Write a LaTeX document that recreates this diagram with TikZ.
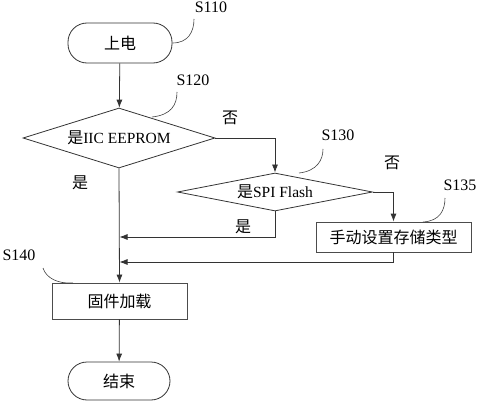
\documentclass[tikz,border=0pt]{standalone}
\usepackage{fontspec}
\setmainfont{Liberation Serif}
\newfontfamily\cjk{Noto Sans CJK SC}[Scale=1.0]
\usetikzlibrary{shapes.geometric,arrows.meta}
\begin{document}
\begin{tikzpicture}[x=1pt,y=-1pt,
  line/.style={draw=black!80, line width=0.8pt},
  arr/.style={line, -{Latex[length=8pt,width=6pt]}},
  lead/.style={draw=black!75, line width=0.6pt},
  term/.style={draw=black!80, line width=0.8pt, rounded corners=19pt, minimum width=104pt, minimum height=40pt, inner sep=0pt, font=\cjk\fontsize{16}{19}\selectfont},
  dia/.style={diamond, draw=black!80, line width=0.8pt, inner sep=0pt, font=\fontsize{15.5}{18}\selectfont},
  box/.style={rectangle, draw=black!70, line width=0.8pt, inner sep=0pt, font=\cjk\fontsize{16}{19}\selectfont},
  lbl/.style={font=\fontsize{16}{19}\selectfont, inner sep=0pt},
  ans/.style={font=\cjk\fontsize{16}{19}\selectfont, inner sep=0pt}
]
\useasboundingbox (0,0) rectangle (480,404);

\node[term] (start) at (120,43) {上电};
\node[dia, minimum width=192pt, minimum height=60pt, aspect=3.2] (d1) at (119,138) {{\cjk\fontsize{16}{19}\selectfont 是}IIC EEPROM};
\node[dia, minimum width=195pt, minimum height=38pt, aspect=5] (d2) at (275,192) {{\cjk\fontsize{16}{19}\selectfont 是}SPI Flash};
\node[box, minimum width=155pt, minimum height=30pt] (manual) at (393.5,237) {手动设置存储类型};
\node[box, minimum width=135pt, minimum height=36pt] (load) at (119.5,301) {固件加载};
\node[term, minimum width=102pt, minimum height=38pt] (end) at (119,381) {结束};

\coordinate (j1) at (119.5,237);
\coordinate (j2) at (119.5,262);

\draw[arr] (start) -- (d1);
\draw[arr] (d1.east) -| (d2.north);
\draw[arr] (d2.east) -| (manual.north);
\draw[arr] (d1.south) -- (load.north);
\draw[arr] (d2.south) |- (j1);
\draw[arr] (manual.south) |- (j2);
\draw[arr] (load) -- (end);

\node[ans] (no1) at (230,118) {否};
\node[ans] (no2) at (392,163) {否};
\node[ans] (yes1) at (80,183) {是};
\node[ans] (yes2) at (243,227) {是};

\node[lbl] (s110) at (211,7) {S110};
\node[lbl] (s120) at (193,80) {S120};
\node[lbl] (s130) at (338,135) {S130};
\node[lbl] (s135) at (460,185) {S135};
\node[lbl] (s140) at (19,255) {S140};

\coordinate (a110) at (194,19);
\coordinate (a120) at (177,92);
\coordinate (a130) at (323,149);
\coordinate (a135) at (445,198);
\coordinate (a140) at (43,268);
\coordinate (b120) at (152,117);
\coordinate (b130) at (299,173);
\coordinate (b135) at (423,222);
\coordinate (b140) at (73,283);

\draw[lead] (start.east) .. controls (188,43) and (194,32) .. (a110);
\draw[lead] (b120) .. controls (171,115) and (177,105) .. (a120);
\draw[lead] (b130) .. controls (317,171) and (323,160) .. (a130);
\draw[lead] (b135) .. controls (440,221) and (445,210) .. (a135);
\draw[lead] (a140) .. controls (46,278) and (58,284) .. (b140);
\end{tikzpicture}
\end{document}
